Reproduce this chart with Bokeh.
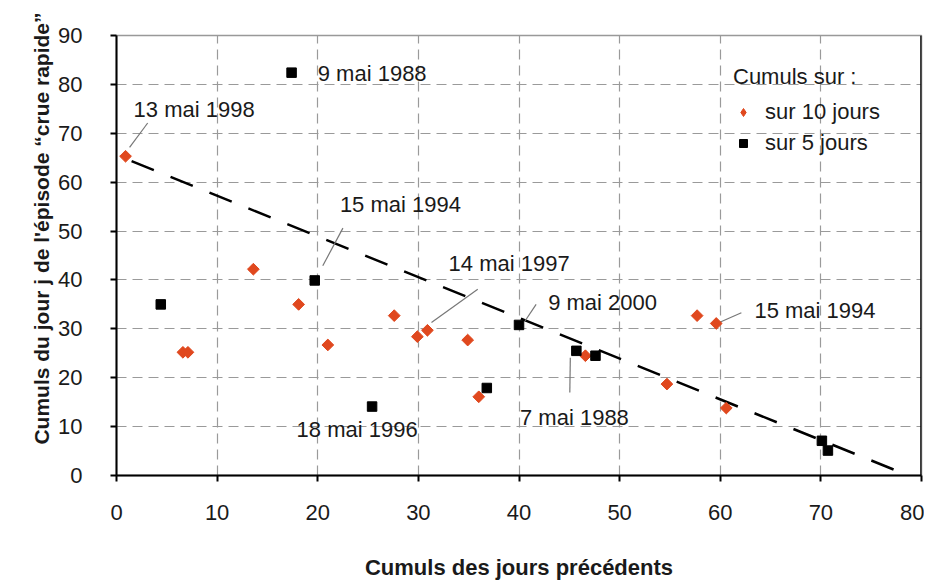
import numpy as np
from bokeh.plotting import figure
from bokeh.models import Range1d, Span, ColumnDataSource, Legend, LegendItem, FixedTicker, Title
from bokeh.core.properties import value
from bokeh.embed import file_html
from bokeh.resources import INLINE

# ---- data ----
d10_x = [0.9, 6.6, 7.1, 13.6, 18.1, 21.0, 27.6, 29.9, 30.9, 34.9, 36.0, 46.6, 54.7, 57.7, 59.6, 60.6]
d10_y = [65.3, 25.2, 25.2, 42.2, 35.0, 26.7, 32.7, 28.4, 29.7, 27.7, 16.1, 24.5, 18.7, 32.7, 31.1, 13.8]
d5_x = [4.4, 17.4, 19.7, 25.4, 36.8, 40.0, 45.7, 47.6, 70.1, 70.7]
d5_y = [35.0, 82.4, 39.9, 14.1, 17.9, 30.8, 25.5, 24.5, 7.1, 5.1]
trend_x = [1.5, 78.7]
trend_y = [64.3, 0.0]
x_ticks = [0, 10, 20, 30, 40, 50, 60, 70, 80]
y_ticks = [0, 10, 20, 30, 40, 50, 60, 70, 80, 90]

ann_text = ["13 mai 1998", "9 mai 1988", "15 mai 1994", "14 mai 1997",
            "9 mai 2000", "15 mai 1994", "7 mai 1988", "18 mai 1996"]
ann_x = [1.7, 20.0, 22.2, 33.0, 42.9, 63.4, 40.1, 17.9]
ann_y = [74.9, 82.3, 55.4, 43.4, 35.4, 33.8, 11.9, 9.5]
lead_x0 = [3.1, 22.5, 35.9, 41.7, 62.1, 45.1]
lead_y0 = [72.1, 50.6, 38.1, 35.0, 33.3, 24.1]
lead_x1 = [1.3, 20.5, 31.3, 40.6, 59.9, 45.05]
lead_y1 = [67.1, 42.9, 31.3, 31.6, 31.3, 17.0]

FONT = "Liberation Sans"
ORANGE = "#E0481E"
TXT = "#1a1a1a"

p = figure(frame_width=805, frame_height=440, output_backend="svg", toolbar_location=None,
           x_range=Range1d(0, 80), y_range=Range1d(0, 90),
           min_border_left=116, min_border_right=3, min_border_top=35, min_border_bottom=98)
p.background_fill_color = "white"
p.outline_line_color = "#999999"
p.outline_line_width = 1.5

for ax in (p.xaxis[0], p.yaxis[0]):
    ax.axis_line_width = 2
    ax.axis_line_color = "black"
    ax.major_tick_line_width = 2
    ax.major_tick_line_color = "black"
    ax.major_tick_in = 0
    ax.major_tick_out = 6
    ax.minor_tick_line_color = None
    ax.major_label_text_font = FONT
    ax.major_label_text_font_size = "22px"
    ax.major_label_text_color = TXT

p.xaxis[0].ticker = FixedTicker(ticks=x_ticks)
p.yaxis[0].ticker = FixedTicker(ticks=y_ticks)
p.xaxis[0].major_label_standoff = 23
p.yaxis[0].major_label_standoff = 28
p.xaxis[0].axis_label = "Cumuls des jours précédents"
p.xaxis[0].axis_label_text_font = FONT
p.xaxis[0].axis_label_text_font_style = "bold"
p.xaxis[0].axis_label_text_font_size = "22px"
p.xaxis[0].axis_label_text_color = TXT
p.xaxis[0].axis_label_standoff = 32

for g in (p.xgrid[0], p.ygrid[0]):
    g.grid_line_color = "#9a9a9a"
    g.grid_line_dash = "10 6"
    g.grid_line_width = 1.2
p.xgrid[0].ticker = FixedTicker(ticks=x_ticks)
p.ygrid[0].ticker = FixedTicker(ticks=y_ticks)

p.add_layout(Span(location=80, dimension="height", line_color="black", line_width=2.5))

ytitle = Title(text="Cumuls du jour j de l'épisode “crue rapide”", align="right", offset=-23,
               text_font=FONT, text_font_style="bold", text_font_size="21px", text_color=TXT,
               standoff=6)
p.add_layout(ytitle, "left")

# trend line
p.line(trend_x, trend_y, line_color="black", line_width=2.5, line_dash="24 18")

# leader lines
p.segment(x0=lead_x0, y0=lead_y0, x1=lead_x1, y1=lead_y1, line_color="#777777", line_width=1.2)

# legend-shape renderer (hidden beneath the rotated squares)
r10_leg = p.scatter(d10_x, d10_y, marker="diamond", size=10,
                    fill_color=ORANGE, line_color=ORANGE)
r10 = p.scatter(d10_x, d10_y, marker="square", angle=np.pi / 4, size=8.3,
                fill_color=ORANGE, line_color=ORANGE)
r5 = p.scatter(d5_x, d5_y, marker="square", size=9.5, fill_color="black", line_color="black")

src = ColumnDataSource(dict(x=ann_x, y=ann_y, t=ann_text))
p.text(x="x", y="y", text="t", source=src, text_font=value(FONT), text_font_size="22px",
       text_color=TXT, text_align="left", text_baseline="middle")

legend = Legend(items=[LegendItem(label="sur 10 jours", renderers=[r10_leg]),
                       LegendItem(label="sur 5 jours", renderers=[r5])],
                location=(617, 318), title="Cumuls sur :",
                title_text_font=FONT, title_text_font_size="22px", title_text_font_style="normal",
                title_text_color=TXT, title_standoff=8,
                label_text_font=FONT, label_text_font_size="22px", label_text_color=TXT,
                glyph_width=20, glyph_height=28, label_height=28, label_standoff=12,
                spacing=3, padding=0, margin=0,
                border_line_color=None, background_fill_alpha=0)
p.add_layout(legend)

open("out.html", "w").write(file_html(p, INLINE))
